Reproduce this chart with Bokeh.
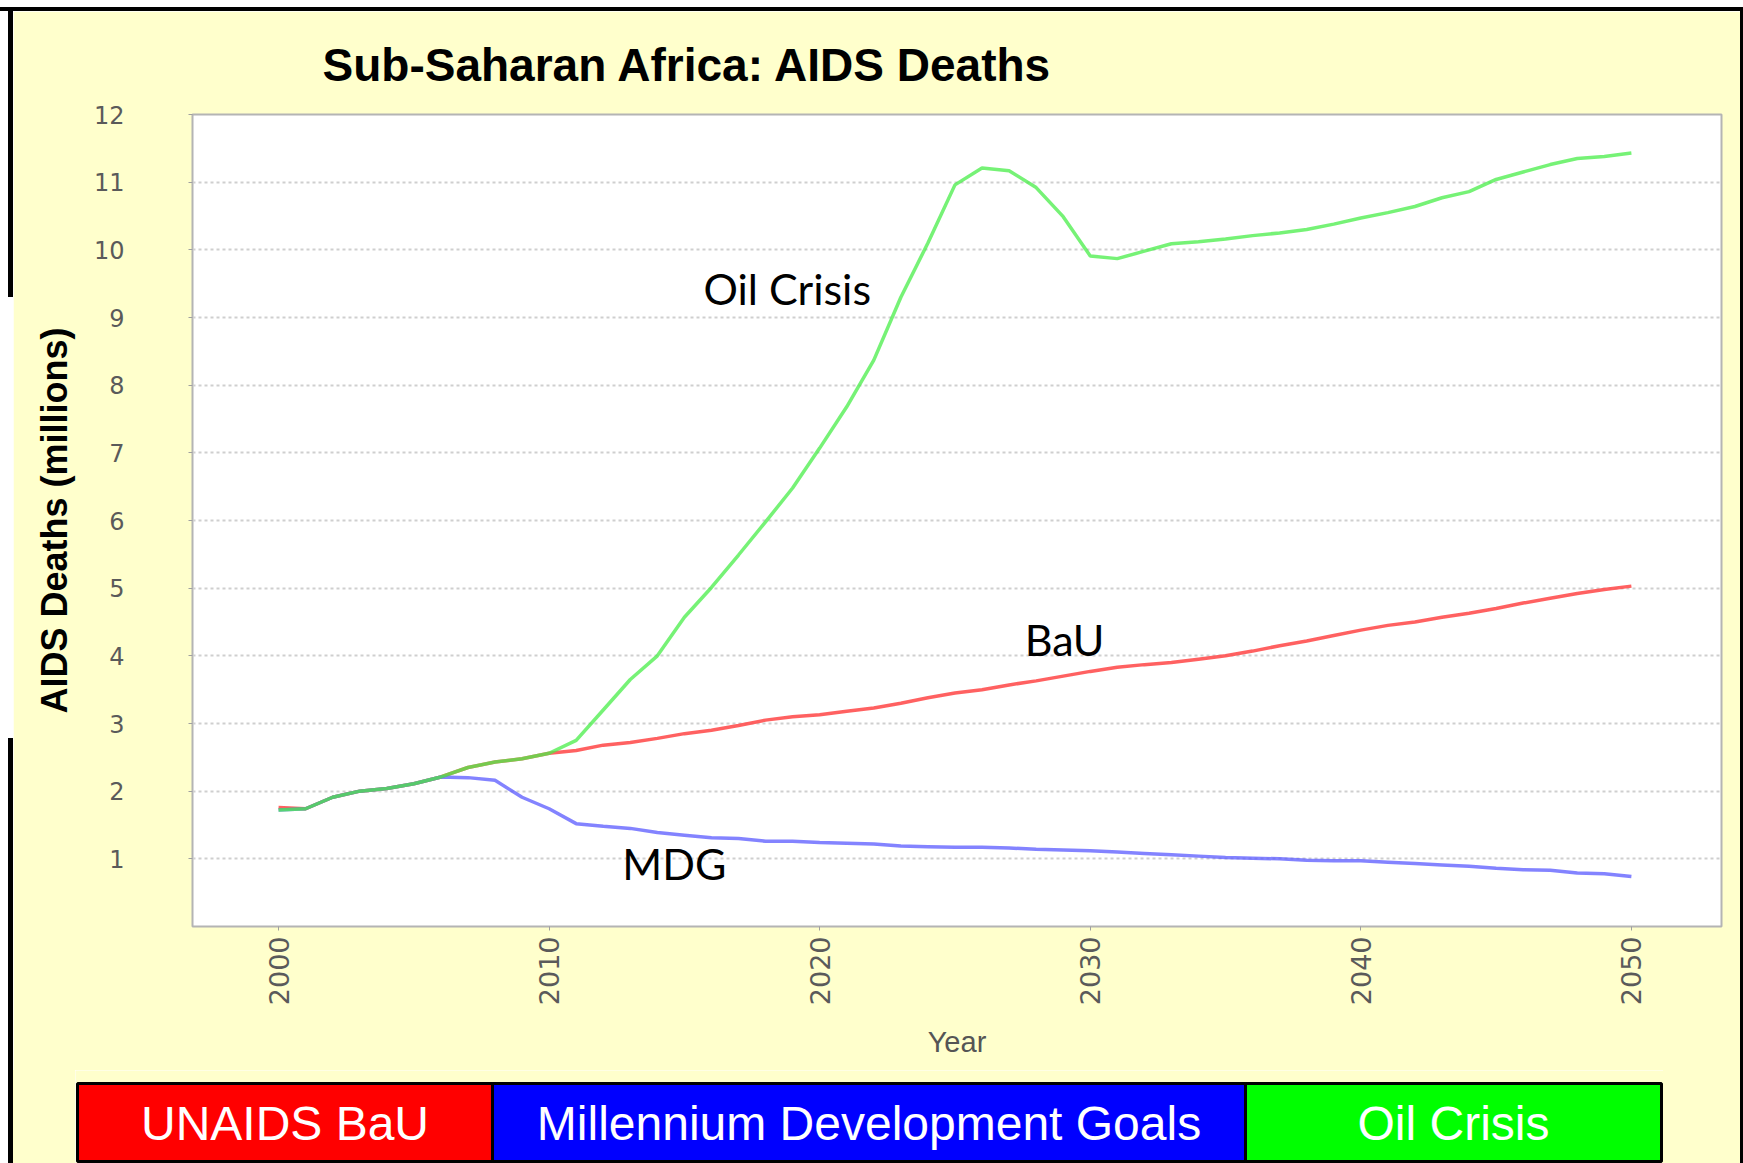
import math
from bokeh.plotting import figure
from bokeh.models import Range1d, FixedTicker, Label, Spacer
from bokeh.layouts import column, row
from bokeh.core.properties import value
from bokeh.embed import file_html
from bokeh.resources import INLINE

# ---------------- data ----------------
years = list(range(2000, 2051))

bau = [1.76, 1.74, 1.91, 2.00, 2.04, 2.11, 2.21, 2.35, 2.43, 2.48, 2.56,
       2.60, 2.68, 2.72, 2.78, 2.85, 2.90, 2.97, 3.05, 3.10, 3.13,
       3.18, 3.23, 3.30, 3.38, 3.45, 3.50, 3.57, 3.63, 3.70, 3.77,
       3.83, 3.87, 3.90, 3.95, 4.00, 4.07, 4.15, 4.22, 4.30, 4.38,
       4.45, 4.50, 4.57, 4.63, 4.70, 4.78, 4.85, 4.92, 4.98, 5.03]

mdg = [1.72, 1.74, 1.91, 2.00, 2.04, 2.11, 2.21, 2.20, 2.16, 1.91, 1.74,
       1.52, 1.48, 1.45, 1.39, 1.35, 1.31, 1.30, 1.26, 1.26, 1.24,
       1.23, 1.22, 1.19, 1.18, 1.17, 1.17, 1.16, 1.14, 1.13, 1.12,
       1.10, 1.08, 1.06, 1.04, 1.02, 1.01, 1.00, 0.98, 0.97, 0.97,
       0.95, 0.93, 0.91, 0.89, 0.86, 0.84, 0.83, 0.79, 0.78, 0.74]

oil = [1.72, 1.74, 1.91, 2.00, 2.04, 2.11, 2.21, 2.35, 2.43, 2.48, 2.56,
       2.75, 3.20, 3.65, 4.00, 4.57, 5.01, 5.49, 5.98, 6.48, 7.07,
       7.68, 8.37, 9.30, 10.10, 10.96, 11.21, 11.17, 10.92, 10.49, 9.91,
       9.87, 9.98, 10.09, 10.12, 10.16, 10.21, 10.25, 10.30, 10.38, 10.47,
       10.55, 10.64, 10.77, 10.86, 11.04, 11.15, 11.26, 11.35, 11.38, 11.43]

y_ticks = list(range(1, 13))
x_ticks = [2000, 2010, 2020, 2030, 2040, 2050]

title_text = "Sub-Saharan Africa: AIDS Deaths"
y_label = "AIDS Deaths (millions)"
x_label = "Year"

line_labels = ["Oil Crisis", "BaU", "MDG"]
line_label_x = [2018.8, 2029.05, 2014.63]
line_label_y = [9.43, 4.24, 0.93]

legend_labels = ["UNAIDS BaU", "Millennium Development Goals", "Oil Crisis"]

# ---------------- layout / style ----------------
BG = "#FFFFCC"
INNER_W = 1727
MAIN_H = 1059
LEG_H = 93

p = figure(width=INNER_W, height=MAIN_H, output_backend="svg", toolbar_location=None,
           x_range=Range1d(1996.82, 2053.33), y_range=Range1d(0, 12),
           min_border_left=179, min_border_right=19,
           min_border_top=103, min_border_bottom=144)
p.border_fill_color = BG
p.background_fill_color = "white"
p.outline_line_color = "#b4b4b4"
p.outline_line_width = 2

p.title.text = title_text
p.title.text_font = "Liberation Sans"
p.title.text_font_style = "bold"
p.title.text_font_size = "46px"
p.title.text_color = "black"
p.title.align = "left"
p.title.offset = 130
p.title.standoff = 48

p.xgrid.grid_line_color = None
p.ygrid.grid_line_color = "#cfcfcf"
p.ygrid.grid_line_dash = "3 3"
p.ygrid.grid_line_width = 2

tick_color = "#5a5a5a"

p.yaxis.ticker = FixedTicker(ticks=y_ticks)
p.yaxis.axis_line_color = None
p.yaxis.major_tick_in = 0
p.yaxis.major_tick_out = 4
p.yaxis.major_tick_line_color = "#a0a0a0"
p.yaxis.minor_tick_line_color = None
p.yaxis.major_label_standoff = 64
p.yaxis.major_label_text_font = "DejaVu Sans"
p.yaxis.major_label_text_font_size = "24px"
p.yaxis.major_label_text_color = tick_color
p.yaxis.axis_label = y_label
p.yaxis.axis_label_text_font = "Liberation Sans"
p.yaxis.axis_label_text_font_style = "bold"
p.yaxis.axis_label_text_font_size = "36px"
p.yaxis.axis_label_text_color = "black"
p.yaxis.axis_label_standoff = 16

p.xaxis.ticker = FixedTicker(ticks=x_ticks)
p.xaxis.axis_line_color = None
p.xaxis.major_tick_in = 0
p.xaxis.major_tick_out = 4
p.xaxis.major_tick_line_color = "#a0a0a0"
p.xaxis.minor_tick_line_color = None
p.xaxis.major_label_orientation = math.pi / 2
p.xaxis.major_label_standoff = 6
p.xaxis.major_label_text_font = "DejaVu Sans"
p.xaxis.major_label_text_font_size = "27px"
p.xaxis.major_label_text_color = tick_color
p.xaxis.axis_label = x_label
p.xaxis.axis_label_text_font = "Liberation Sans"
p.xaxis.axis_label_text_font_style = "normal"
p.xaxis.axis_label_text_font_size = "29px"
p.xaxis.axis_label_text_color = "#555555"
p.xaxis.axis_label_standoff = 18

# ---------------- series ----------------
p.line(years, bau, line_color="#ff5050", line_width=3.5, line_alpha=0.9)
p.line(years, mdg, line_color="#5a5aff", line_width=3.5, line_alpha=0.75)
p.line(years, oil, line_color="#48ee48", line_width=3.5, line_alpha=0.75)

for t, lx, ly in zip(line_labels, line_label_x, line_label_y):
    p.add_layout(Label(x=lx, y=ly, text=t, text_font="Lato", text_font_size="43px",
                       text_color="black", text_align="center", text_baseline="alphabetic"))

# ---------------- legend bar (separate strip) ----------------
legend_colors = ["#ff0000", "#0000ff", "#00ff00"]
legend_widths = [415, 753, 416]
legend_x0 = 2
lefts, rights = [], []
edge = legend_x0
for w in legend_widths:
    lefts.append(edge)
    edge += w
    rights.append(edge)
centers = [(a + b) / 2 for a, b in zip(lefts, rights)]
LEG_W = rights[-1] + 2
box_top, box_bottom = 13, 91

leg = figure(width=LEG_W, height=LEG_H, output_backend="svg", toolbar_location=None,
             x_range=Range1d(0, LEG_W), y_range=Range1d(LEG_H, 0),
             x_axis_location=None, y_axis_location=None,
             min_border=0)
leg.min_border_left = 0
leg.min_border_right = 0
leg.min_border_top = 0
leg.min_border_bottom = 0
leg.outline_line_color = None
leg.background_fill_color = BG
leg.border_fill_color = BG
leg.xgrid.visible = False
leg.ygrid.visible = False
leg.quad(left=lefts, right=rights, top=[box_top] * 3, bottom=[box_bottom] * 3,
         fill_color=legend_colors, line_color="black", line_width=3)
leg.text(x=centers, y=[(box_top + box_bottom) / 2 + 1] * 3, text=legend_labels,
         text_font=value("Liberation Sans"), text_font_size="48px",
         text_color="white", text_align="center", text_baseline="middle")

# ---------------- outer frame ----------------
def bar(w, h, color):
    return Spacer(width=w, height=h, styles={"background-color": color})

LEG_LEFT = 62
leg_row = row(bar(LEG_LEFT, LEG_H, BG), leg, bar(INNER_W - LEG_LEFT - LEG_W, LEG_H, BG), spacing=0)

INNER_H = MAIN_H + LEG_H
left_strip = column(bar(5, 286, "black"), bar(5, 441, "white"), bar(5, INNER_H - 286 - 441, "black"),
                     spacing=0)
middle = column(p, leg_row, spacing=0)
body = row(bar(8, INNER_H, "white"), left_strip, middle, bar(3, INNER_H, "black"), spacing=0)
page = column(bar(1743, 7, "white"), bar(1743, 4, "black"), body, spacing=0)

open("out.html", "w").write(file_html(page, INLINE))
